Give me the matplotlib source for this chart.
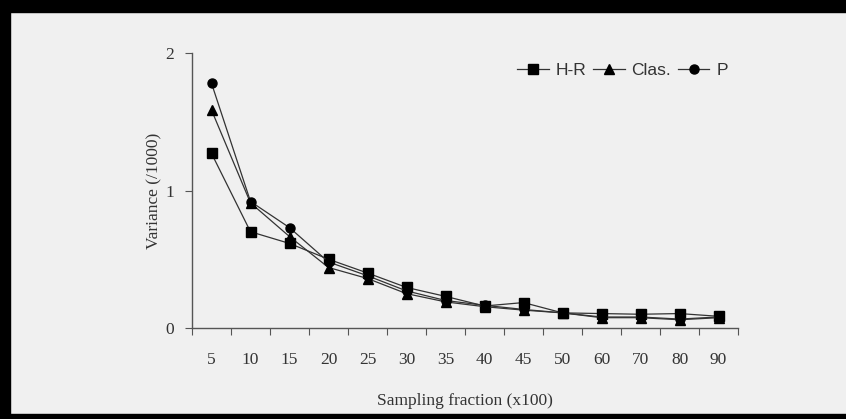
import matplotlib
matplotlib.use("Agg")
import matplotlib.pyplot as plt
from matplotlib.patches import Rectangle
import numpy as np

# sampling fraction categories (x100)
fractions = ["5", "10", "15", "20", "25", "30", "35", "40", "45", "50", "60", "70", "80", "90"]

# variance (/1000)
hr = [1.27, 0.70, 0.615, 0.50, 0.40, 0.295, 0.23, 0.16, 0.185, 0.11, 0.105, 0.10, 0.105, 0.085]
clas = [1.585, 0.91, 0.665, 0.44, 0.36, 0.25, 0.19, 0.155, 0.13, 0.11, 0.075, 0.075, 0.06, 0.075]
p = [1.78, 0.92, 0.73, 0.48, 0.38, 0.27, 0.20, 0.165, 0.135, 0.11, 0.08, 0.08, 0.065, 0.08]

bg = "#f0f0f0"
fig = plt.figure(figsize=(8.46, 4.19), dpi=100, facecolor=bg)

# black frame around the picture (top, left, bottom)
fig.patches.append(Rectangle((0, 1 - 12 / 419), 1, 12 / 419, transform=fig.transFigure, color="black"))
fig.patches.append(Rectangle((0, 0), 10 / 846, 1, transform=fig.transFigure, color="black"))
fig.patches.append(Rectangle((0, 0), 1, 5 / 419, transform=fig.transFigure, color="black"))

ax = fig.add_axes([192 / 846, 1 - 328 / 419, 546 / 846, 275 / 419])
ax.set_facecolor(bg)

x = np.arange(len(fractions))
lc = "#333333"
ax.plot(x, hr, "-s", color=lc, lw=0.9, ms=6.5, mfc="black", mec="black", label="H-R")
ax.plot(x, clas, "-^", color=lc, lw=0.9, ms=7, mfc="black", mec="black", label="Clas.")
ax.plot(x, p, "-o", color=lc, lw=0.9, ms=6.5, mfc="black", mec="black", label="P")

ax.set_xlim(-0.5, len(fractions) - 0.5)
ax.set_ylim(0, 2)
ax.set_yticks([0, 1, 2])
ax.set_yticklabels(["0", "1", "2"])

# ticks between categories, labels at category centres
ax.set_xticks(np.arange(len(fractions) + 1) - 0.5)
ax.set_xticklabels([])
ax.set_xticks(x, minor=True)
ax.set_xticklabels(fractions, minor=True)
ax.tick_params(axis="x", which="minor", length=0, pad=17)
ax.tick_params(axis="x", which="major", length=5, direction="out", color="#555555")
ax.tick_params(axis="y", length=5, direction="out", color="#555555", pad=8)

for lab in ax.get_xticklabels(minor=True) + ax.get_yticklabels():
    lab.set_fontfamily("Liberation Serif")
    lab.set_fontsize(12.5)
    lab.set_color("#333333")

for side in ["top", "right"]:
    ax.spines[side].set_visible(False)
for side in ["left", "bottom"]:
    ax.spines[side].set_color("#555555")
    ax.spines[side].set_linewidth(1.0)

ax.set_xlabel("Sampling fraction (x100)", fontfamily="Liberation Serif", fontsize=12.5, color="#333333", labelpad=18)
ax.set_ylabel("Variance (/1000)", fontfamily="Liberation Serif", fontsize=12.5, color="#333333", labelpad=2)

leg = ax.legend(loc="upper right", bbox_to_anchor=(1.01, 1.02), ncol=3, frameon=False,
                prop={"family": "Liberation Sans", "size": 12.5}, handlelength=1.8,
                handletextpad=0.4, columnspacing=0.4)
for t in leg.get_texts():
    t.set_color("#333333")

fig.savefig("out.png", dpi=100, facecolor=bg)
